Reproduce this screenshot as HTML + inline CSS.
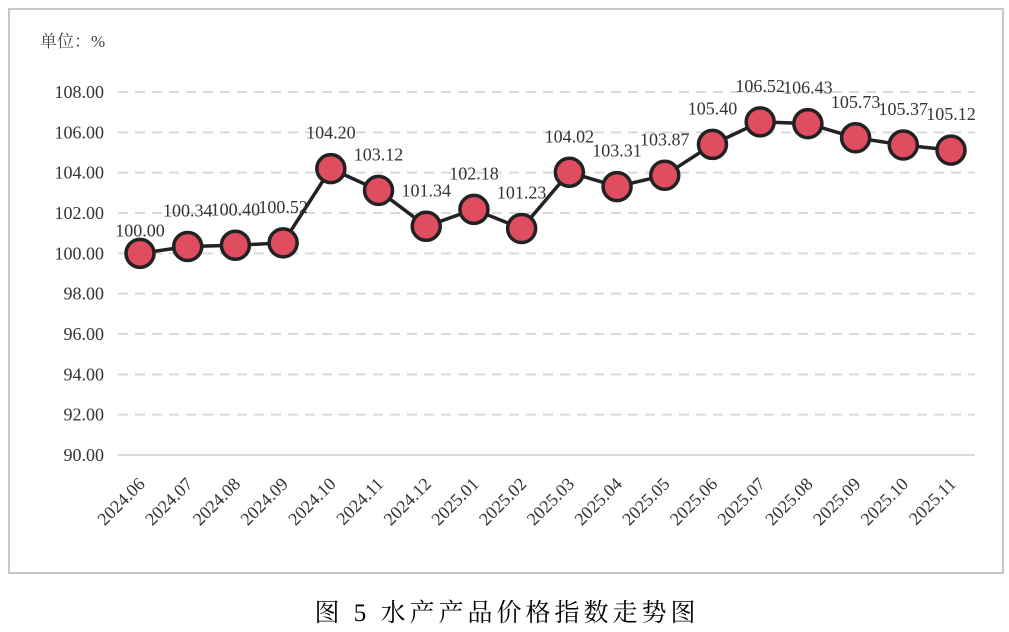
<!DOCTYPE html>
<html><head><meta charset="utf-8"><style>
body{margin:0;background:#fff;width:1009px;height:632px;overflow:hidden}
svg{display:block;font-family:"Liberation Serif","Noto Serif CJK SC",serif}
</style></head><body>
<svg id="c" width="1009" height="632">
<rect x="9" y="9" width="994" height="564" fill="none" stroke="#c8c8c8" stroke-width="2"/>
<text x="40" y="47" font-size="17" fill="#444">单位：%</text>
<g id="grid"></g><g id="ylab"></g><g id="xlab"></g><g id="series"></g><g id="vals"></g>
<text x="507" y="621" font-size="25" text-anchor="middle" fill="#000" letter-spacing="4">图 5 水产产品价格指数走势图</text>
</svg>
<script>
const categories=["2024.06","2024.07","2024.08","2024.09","2024.10","2024.11","2024.12","2025.01","2025.02","2025.03","2025.04","2025.05","2025.06","2025.07","2025.08","2025.09","2025.10","2025.11"];
const values=[100.00,100.34,100.40,100.52,104.20,103.12,101.34,102.18,101.23,104.02,103.31,103.87,105.40,106.52,106.43,105.73,105.37,105.12];
const yTicks=[90,92,94,96,98,100,102,104,106,108];
const NS="http://www.w3.org/2000/svg";
const x=i=>140+i*(951-140)/(categories.length-1);
const y=v=>455-(v-90)*(455-92)/18;
function mk(tag,attrs,parent){const e=document.createElementNS(NS,tag);for(const k in attrs)e.setAttribute(k,attrs[k]);document.getElementById(parent).appendChild(e);return e;}
yTicks.forEach(t=>{
  const l=mk('line',{x1:118,x2:975,y1:y(t),y2:y(t),stroke:'#d9d9d9','stroke-width':2,'stroke-dasharray':t===90?'none':'10,7'},'grid');
  
  
  const tx=mk('text',{x:104,y:y(t)+6,'font-size':18,'text-anchor':'end',fill:'#333'},'ylab');
  tx.textContent=t.toFixed(2);
  
  
});
categories.forEach((c,i)=>{
  const tx=mk('text',{x:0,y:0,'font-size':18,'text-anchor':'end',fill:'#333',transform:`translate(${x(i)+6},${y(90)+30}) rotate(-45)`},'xlab');
  tx.textContent=c;
  
  
});
const pl=mk('polyline',{points:values.map((v,i)=>x(i)+','+y(v)).join(' '),fill:'none',stroke:'#222','stroke-width':3.5},'series');


values.forEach((v,i)=>{
  const c=mk('circle',{cx:x(i),cy:y(v),r:14,fill:'#e04c60',stroke:'#222','stroke-width':3.5},'series');
  
  
  const t=mk('text',{x:x(i),y:y(v)-(i===0?17:30),'font-size':18,'text-anchor':'middle',fill:'#333'},'vals');
  t.textContent=v.toFixed(2);
  
  
});
</script>
</body></html>
